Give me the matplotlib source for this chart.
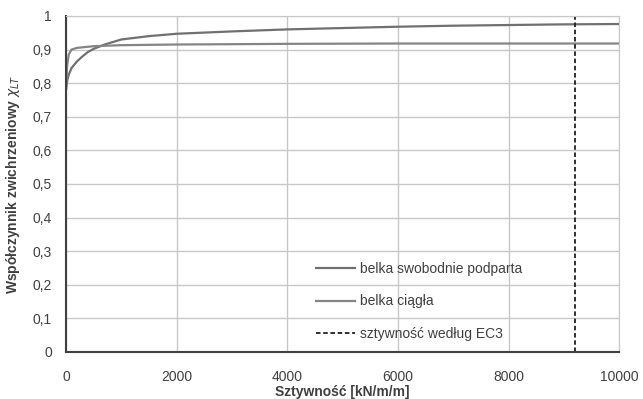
import matplotlib.pyplot as plt
import numpy as np

plt.rcParams['font.family'] = ['Liberation Sans', 'DejaVu Sans']

# belka swobodnie podparta
x_sw = [0, 25, 50, 100, 200, 300, 400, 500, 700, 1000, 1500, 2000, 3000, 4000, 5000, 6000, 7000, 8000, 9000, 10000]
y_sw = [0.78, 0.81, 0.825, 0.845, 0.865, 0.88, 0.893, 0.902, 0.915, 0.93, 0.94, 0.947, 0.954, 0.96, 0.964, 0.968, 0.971, 0.973, 0.975, 0.976]
# belka ciagla
x_cg = [0, 20, 50, 100, 200, 500, 1000, 2000, 4000, 6000, 8000, 10000]
y_cg = [0.78, 0.85, 0.885, 0.9, 0.905, 0.91, 0.913, 0.915, 0.917, 0.918, 0.918, 0.918]
# sztywnosc wedlug EC3
x_ec3 = 9200

yticks = np.arange(0, 1.01, 0.1)
ytick_labels = ['0', '0,1', '0,2', '0,3', '0,4', '0,5', '0,6', '0,7', '0,8', '0,9', '1']
xticks = [0, 2000, 4000, 6000, 8000, 10000]

fig = plt.figure(figsize=(6.43, 3.99), dpi=100)
ax = fig.add_axes([0.1026, 0.118, 0.8604, 0.842])

ax.plot(x_sw, y_sw, color='#707070', lw=1.6, label='belka swobodnie podparta')
ax.plot(x_cg, y_cg, color='#858585', lw=1.6, label='belka ciągła')
ax.axvline(x_ec3, color='#202020', lw=1.3, ls=(0, (2.5, 1.5)), label='sztywność według EC3')

ax.set_xlim(0, 10000)
ax.set_ylim(0, 1)
ax.set_xticks(xticks)
ax.set_yticks(yticks)
ax.set_yticklabels(ytick_labels)
ax.grid(True, color='#c8c8c8', lw=1.0)
ax.set_axisbelow(True)
ax.tick_params(length=0, labelsize=10, colors='#404040')
ax.tick_params(axis='x', pad=13)
ax.tick_params(axis='y', pad=10)
for s in ['top', 'right']:
    ax.spines[s].set_color('#c8c8c8')
for s in ['left', 'bottom']:
    ax.spines[s].set_color('#404040')
    ax.spines[s].set_linewidth(1.5)

ax.set_xlabel('Sztywność [kN/m/m]', fontsize=10, fontweight='bold', color='#404040', labelpad=1)
ax.set_ylabel('Współczynnik zwichrzeniowy $\\chi_{LT}$', fontsize=10, fontweight='bold', color='#404040', labelpad=8)

leg = ax.legend(loc='lower left', bbox_to_anchor=(0.43, -0.005), frameon=False, fontsize=10,
                handlelength=2.8, labelspacing=1.34, handletextpad=0.35)
for t in leg.get_texts():
    t.set_color('#404040')

plt.savefig('out.png', dpi=100)
